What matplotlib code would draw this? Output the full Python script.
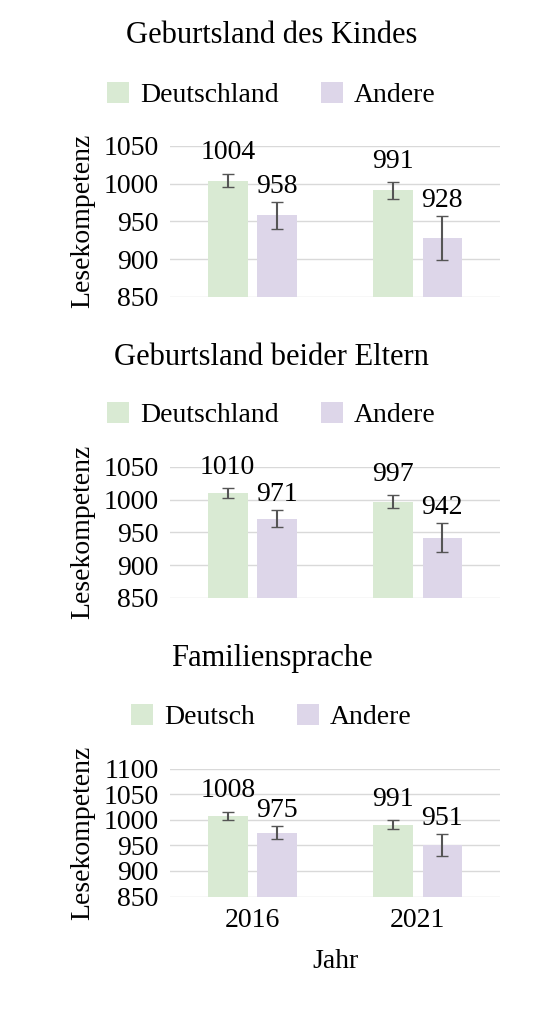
import matplotlib
matplotlib.use("Agg")
import matplotlib.pyplot as plt
import numpy as np

plt.rcParams['font.family'] = ['Liberation Serif', 'DejaVu Serif']

years = ["2016", "2021"]
titles = ["Geburtsland des Kindes", "Geburtsland beider Eltern", "Familiensprache"]
legend_a = ["Deutschland", "Deutschland", "Deutsch"]
legend_b = ["Andere", "Andere", "Andere"]
vals_a = [[1004, 991], [1010, 997], [1008, 991]]
vals_b = [[958, 928], [971, 942], [975, 951]]
err_a = [[9, 11], [8, 10], [8, 9]]
err_b = [[18, 29], [13, 22], [13, 22]]
yticks = [[850, 900, 950, 1000, 1050], [850, 900, 950, 1000, 1050], [850, 900, 950, 1000, 1050, 1100]]

green = "#d9ead3"
purple = "#ddd6e9"

fig = plt.figure(figsize=(5.43, 10.13), dpi=100)
rects = [(0.313, 0.707, 0.608, 0.149), (0.313, 0.410, 0.608, 0.129), (0.313, 0.115, 0.608, 0.126)]
title_y = [0.965, 0.647, 0.350]
leg_y = [0.906, 0.590, 0.292]
x = np.arange(len(years))
w = 0.24
off = 0.15
FS = 20
for i in range(3):
    ax = fig.add_axes(rects[i])
    ba = ax.bar(x - off, vals_a[i], w, color=green, label=legend_a[i], zorder=2)
    bb = ax.bar(x + off, vals_b[i], w, color=purple, label=legend_b[i], zorder=2)
    ax.errorbar(x - off, vals_a[i], yerr=err_a[i], fmt='none', ecolor='#555555', capsize=4, lw=1.5, zorder=3)
    ax.errorbar(x + off, vals_b[i], yerr=err_b[i], fmt='none', ecolor='#555555', capsize=4, lw=1.5, zorder=3)
    for xi, v, e in zip(x - off, vals_a[i], err_a[i]):
        ax.annotate(str(v), (xi, v + e), xytext=(0, 6), textcoords='offset points',
                    ha='center', va='bottom', fontsize=FS)
    for xi, v, e in zip(x + off, vals_b[i], err_b[i]):
        ax.annotate(str(v), (xi, v + e), xytext=(0, 2), textcoords='offset points',
                    ha='center', va='bottom', fontsize=FS)
    ax.set_ylim(yticks[i][0], yticks[i][-1])
    ax.set_yticks(yticks[i])
    ax.set_xlim(-0.5, 1.5)
    ax.yaxis.grid(True, color='#d9d9d9', lw=1, zorder=0)
    ax.set_axisbelow(True)
    for s in ax.spines.values():
        s.set_visible(False)
    ax.tick_params(length=0, labelsize=FS, pad=8)
    ax.set_ylabel("Lesekompetenz", fontsize=FS, labelpad=6)
    if i == 2:
        ax.set_xticks(x)
        ax.set_xticklabels(years)
        ax.set_xlabel("Jahr", fontsize=FS, labelpad=12)
    else:
        ax.set_xticks([])
    fig.text(0.5, title_y[i], titles[i], ha='center', va='center', fontsize=22)
    fig.legend(handles=[ba, bb], loc='center', bbox_to_anchor=(0.5, leg_y[i]), ncol=2,
               frameon=False, fontsize=FS, handlelength=0.8, handleheight=0.8, columnspacing=1.5, handletextpad=0.4)

fig.savefig("out.png", dpi=100)
